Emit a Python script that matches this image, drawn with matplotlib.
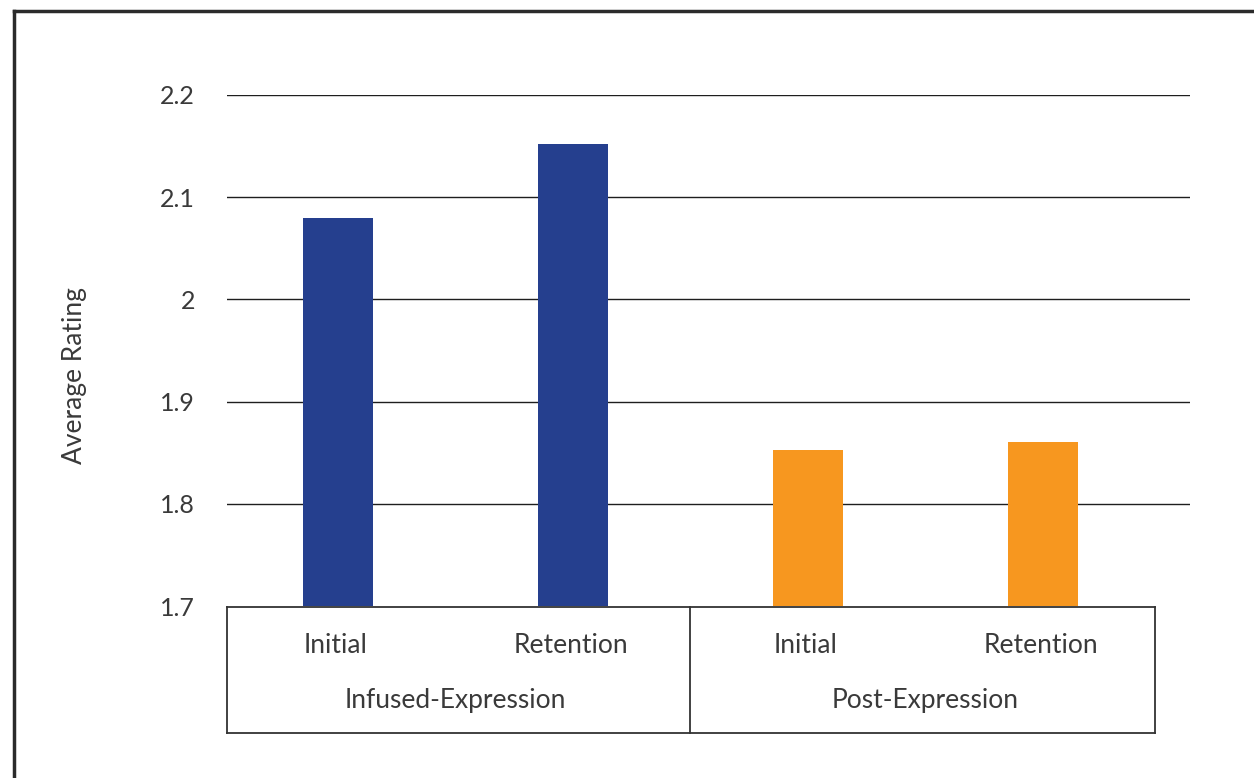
import matplotlib.pyplot as plt
from matplotlib.lines import Line2D
import numpy as np

plt.rcParams['font.family'] = ['Lato', 'DejaVu Sans']

phases = ['Initial', 'Retention', 'Initial', 'Retention']
groups = ['Infused-Expression', 'Post-Expression']
ratings = [2.08, 2.152, 1.853, 1.860]
bar_colors = ['#253F8E', '#253F8E', '#F7971F', '#F7971F']
yticks = [1.7, 1.8, 1.9, 2.0, 2.1, 2.2]
ytick_labels = ['1.7', '1.8', '1.9', '2', '2.1', '2.2']

W, H = 1254, 778
fig = plt.figure(figsize=(W / 100, H / 100), dpi=100)
ax = fig.add_axes([227 / W, 1 - 606 / H, (1190 - 227) / W, (606 - 95) / H])

x = np.arange(len(ratings))
ax.bar(x, np.array(ratings) - 1.7, bottom=1.7, width=0.302, color=bar_colors, zorder=3)

# category slot ~235 px wide, first slot centred ~338 px
left = -0.5 + 6.5 / 235
ax.set_xlim(left, left + 963 / 235)
ax.set_ylim(1.7, 2.2)
ax.set_yticks(yticks)
ax.set_yticklabels(ytick_labels)
ax.set_xticks([])
tc = '#3a3a3a'
ax.tick_params(axis='y', length=0, pad=23, labelsize=18, labelcolor=tc)
for s in ax.spines.values():
    s.set_visible(False)
ax.grid(axis='y', color='#1e1e1e', linewidth=1.0, zorder=0)
ax.yaxis.get_gridlines()[0].set_visible(False)
ax.set_ylabel('Average Rating', fontsize=19, color=tc)
ax.yaxis.set_label_coords(-0.145, 0.45)

# category table under the plot
lc = '#333333'
x0, xm, x1 = 227 / W, 690 / W, 1155 / W
yt, yb = 1 - 607 / H, 1 - 733 / H
for seg in [([x0, x1], [yt, yt]), ([x0, x1], [yb, yb]), ([x0, x0], [yt, yb]),
            ([xm, xm], [yt, yb]), ([x1, x1], [yt, yb])]:
    fig.add_artist(Line2D(seg[0], seg[1], color=lc, linewidth=1.3))
for i, p in enumerate(phases):
    ax.text(i - 0.01, -0.078, p, transform=ax.get_xaxis_transform(), ha='center', va='center',
            fontsize=19, color=tc)
for j, g in enumerate(groups):
    ax.text(2 * j + 0.5, -0.184, g, transform=ax.get_xaxis_transform(), ha='center',
            va='center', fontsize=19, color=tc)

# outer frame (partially cropped)
fx, fy = 14 / W, 1 - 11 / H
fig.add_artist(Line2D([fx, fx], [0, fy], color='#2b2b2b', linewidth=2.5))
fig.add_artist(Line2D([fx, 1], [fy, fy], color='#2b2b2b', linewidth=2.5))

fig.savefig('out.png', dpi=100)
